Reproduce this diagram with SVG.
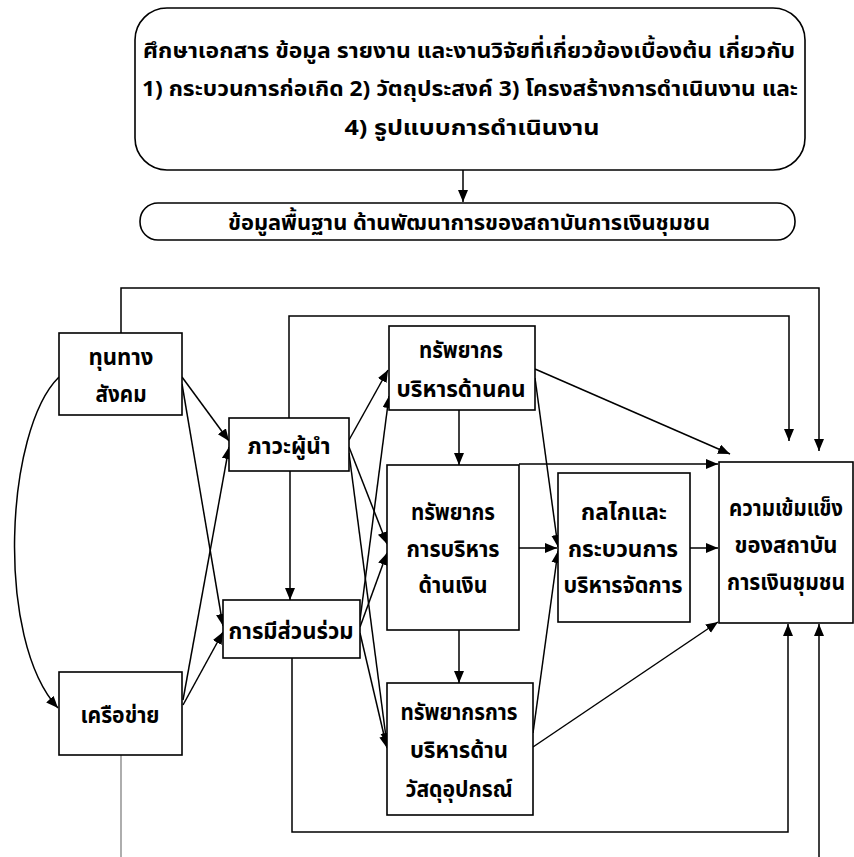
<svg xmlns="http://www.w3.org/2000/svg" width="854" height="857" viewBox="0 0 854 857">
<style>
.box{fill:#fff;stroke:#000;stroke-width:1.6}
.t{font-family:"Noto Sans Thai","Noto Sans","DejaVu Sans",sans-serif;font-weight:bold;font-size:23px;fill:#000;text-anchor:middle}
.h{font-size:22px}
.c{fill:none;stroke:#000;stroke-width:1.5}
.g{fill:none;stroke:#777;stroke-width:1.2}
</style>
<defs>
<marker id="ah" markerUnits="userSpaceOnUse" markerWidth="14" markerHeight="12" refX="12" refY="5" orient="auto">
<path d="M0,0 L12,5 L0,10 z" fill="#000"/>
</marker>
</defs>
<rect width="854" height="857" fill="#fff"/>

<g id="connectors">
<line class="c" x1="463" y1="170" x2="463" y2="202" marker-end="url(#ah)"/>
<polyline class="c" points="121,333 121,288 819,288 819,451" marker-end="url(#ah)"/>
<polyline class="c" points="289,418 289,316 789,316 789,441" marker-end="url(#ah)"/>
<line class="c" x1="182" y1="377" x2="229" y2="441" marker-end="url(#ah)"/>
<line class="c" x1="182" y1="384" x2="223" y2="626" marker-end="url(#ah)"/>
<line class="c" x1="183" y1="700" x2="229" y2="447" marker-end="url(#ah)"/>
<line class="c" x1="183" y1="705" x2="223" y2="632" marker-end="url(#ah)"/>
<path class="c" d="M59,377 C5,430 -5,640 58,708" marker-end="url(#ah)"/>
<line class="c" x1="349" y1="440" x2="388" y2="370" marker-end="url(#ah)"/>
<line class="c" x1="349" y1="447" x2="387" y2="544" marker-end="url(#ah)"/>
<line class="c" x1="349" y1="453" x2="387" y2="745" marker-end="url(#ah)"/>
<line class="c" x1="360" y1="620" x2="389" y2="396" marker-end="url(#ah)"/>
<line class="c" x1="360" y1="627" x2="387" y2="553" marker-end="url(#ah)"/>
<line class="c" x1="360" y1="633" x2="387" y2="748" marker-end="url(#ah)"/>
<line class="c" x1="290" y1="471" x2="290" y2="600" marker-end="url(#ah)"/>
<line class="c" x1="459" y1="410" x2="459" y2="465" marker-end="url(#ah)"/>
<line class="c" x1="459" y1="630" x2="459" y2="683" marker-end="url(#ah)"/>
<line class="c" x1="535" y1="369" x2="730" y2="454" marker-end="url(#ah)"/>
<line class="c" x1="535" y1="378" x2="558" y2="547" marker-end="url(#ah)"/>
<line class="c" x1="519" y1="464" x2="718" y2="464" marker-end="url(#ah)"/>
<line class="c" x1="519" y1="548" x2="557" y2="548" marker-end="url(#ah)"/>
<line class="c" x1="690" y1="548" x2="718" y2="548" marker-end="url(#ah)"/>
<line class="c" x1="533" y1="733" x2="558" y2="551" marker-end="url(#ah)"/>
<line class="c" x1="533" y1="747" x2="718" y2="622" marker-end="url(#ah)"/>
<polyline class="c" points="292,658 292,832 788,832 788,624" marker-end="url(#ah)"/>
<line class="g" x1="121" y1="755" x2="121" y2="857"/>
<line class="c" x1="819" y1="857" x2="819" y2="624" marker-end="url(#ah)"/>
</g>

<g id="n-study">
<rect class="box" x="135" y="8" width="670" height="162" rx="32"/>
<text class="t h" x="469" y="58" textLength="652" lengthAdjust="spacingAndGlyphs">ศึกษาเอกสาร ข้อมูล รายงาน และงานวิจัยที่เกี่ยวข้องเบื้องต้น เกี่ยวกับ</text>
<text class="t h" x="470" y="96" textLength="656" lengthAdjust="spacingAndGlyphs">1) กระบวนการก่อเกิด 2) วัตถุประสงค์ 3) โครงสร้างการดำเนินงาน และ</text>
<text class="t h" x="472" y="135" textLength="255" lengthAdjust="spacingAndGlyphs">4) รูปแบบการดำเนินงาน</text>
</g>

<g id="n-base">
<rect class="box" x="140" y="203" width="655" height="37" rx="18"/>
<text class="t h" x="469" y="230" textLength="482" lengthAdjust="spacingAndGlyphs">ข้อมูลพื้นฐาน ด้านพัฒนาการของสถาบันการเงินชุมชน</text>
</g>

<g id="n-social">
<rect class="box" x="59" y="333" width="123" height="82"/>
<text class="t" x="121" y="365" textLength="65" lengthAdjust="spacingAndGlyphs">ทุนทาง</text>
<text class="t" x="121" y="402" textLength="51" lengthAdjust="spacingAndGlyphs">สังคม</text>
</g>

<g id="n-leader">
<rect class="box" x="229" y="418" width="120" height="53"/>
<text class="t" x="289" y="454" textLength="83" lengthAdjust="spacingAndGlyphs">ภาวะผู้นำ</text>
</g>

<g id="n-particip">
<rect class="box" x="223" y="600" width="137" height="58"/>
<text class="t" x="291" y="639" textLength="125" lengthAdjust="spacingAndGlyphs">การมีส่วนร่วม</text>
</g>

<g id="n-network">
<rect class="box" x="59" y="672" width="123" height="83"/>
<text class="t" x="120" y="723" textLength="79" lengthAdjust="spacingAndGlyphs">เครือข่าย</text>
</g>

<g id="n-people">
<rect class="box" x="389" y="326" width="146" height="84"/>
<text class="t" x="461" y="358" textLength="84" lengthAdjust="spacingAndGlyphs">ทรัพยากร</text>
<text class="t" x="461" y="397" textLength="129" lengthAdjust="spacingAndGlyphs">บริหารด้านคน</text>
</g>

<g id="n-money">
<rect class="box" x="387" y="465" width="132" height="165"/>
<text class="t" x="453" y="520" textLength="84" lengthAdjust="spacingAndGlyphs">ทรัพยากร</text>
<text class="t" x="453" y="557" textLength="93" lengthAdjust="spacingAndGlyphs">การบริหาร</text>
<text class="t" x="453" y="593" textLength="69" lengthAdjust="spacingAndGlyphs">ด้านเงิน</text>
</g>

<g id="n-material">
<rect class="box" x="387" y="683" width="146" height="132"/>
<text class="t" x="459" y="720" textLength="117" lengthAdjust="spacingAndGlyphs">ทรัพยากรการ</text>
<text class="t" x="459" y="758" textLength="98" lengthAdjust="spacingAndGlyphs">บริหารด้าน</text>
<text class="t" x="459" y="797" textLength="107" lengthAdjust="spacingAndGlyphs">วัสดุอุปกรณ์</text>
</g>

<g id="n-mechanism">
<rect class="box" x="558" y="473" width="132" height="149"/>
<text class="t" x="624" y="520" textLength="86" lengthAdjust="spacingAndGlyphs">กลไกและ</text>
<text class="t" x="623" y="557" textLength="110" lengthAdjust="spacingAndGlyphs">กระบวนการ</text>
<text class="t" x="623" y="593" textLength="119" lengthAdjust="spacingAndGlyphs">บริหารจัดการ</text>
</g>

<g id="n-strength">
<rect class="box" x="719" y="462" width="134" height="161"/>
<text class="t" x="786" y="516" textLength="114" lengthAdjust="spacingAndGlyphs">ความเข้มแข็ง</text>
<text class="t" x="786" y="553" textLength="103" lengthAdjust="spacingAndGlyphs">ของสถาบัน</text>
<text class="t" x="786" y="590" textLength="118" lengthAdjust="spacingAndGlyphs">การเงินชุมชน</text>
</g>
</svg>
